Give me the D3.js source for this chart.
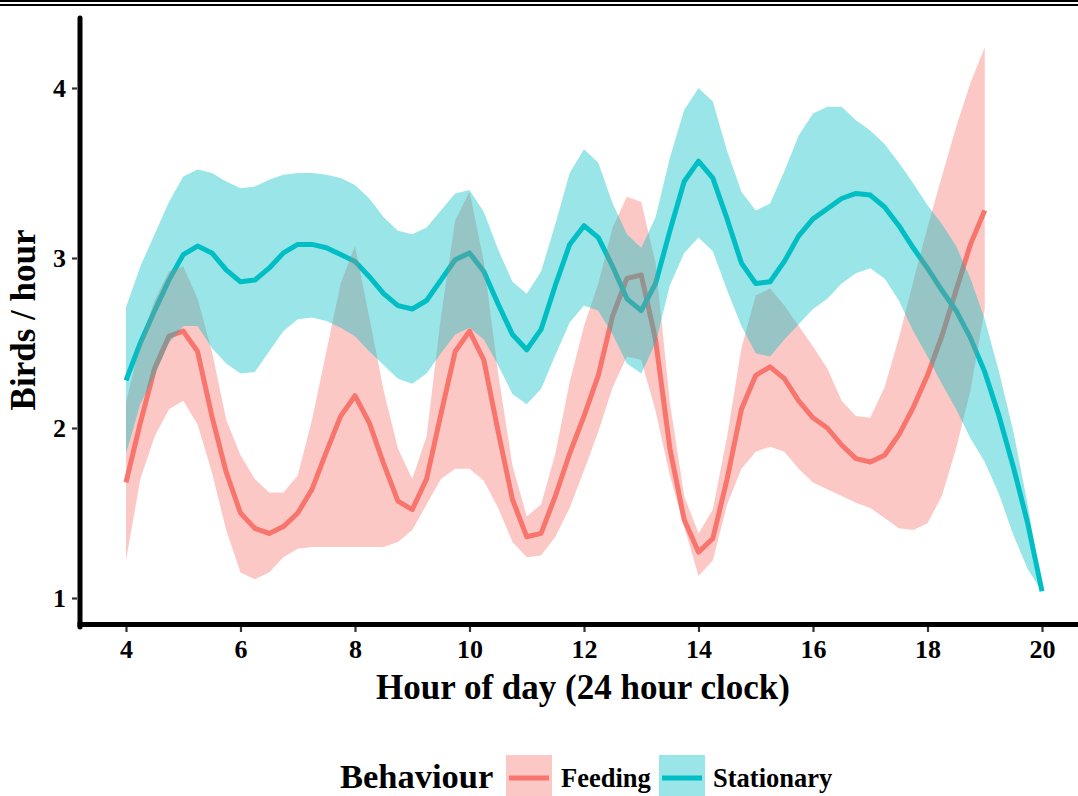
<!DOCTYPE html>
<html>
<head>
<meta charset="utf-8">
<script src="https://cdn.jsdelivr.net/npm/d3@7"></script>
<style>
  html, body { margin: 0; padding: 0; background: #fff; }
  svg { display: block; }
  text { font-family: "Liberation Serif", "Times New Roman", serif; font-weight: bold; fill: #000; }
</style>
</head>
<body>
<svg id="chart" width="1078" height="796"></svg>
<script>
// ---------- DATA ----------
const behaviours = ["Feeding", "Stationary"];
const colours = ["#F8766D", "#00BFC4"];

const feedingHours = [4,4.25,4.5,4.75,5,5.25,5.5,5.75,6,6.25,6.5,6.75,7,7.25,7.5,7.75,8,8.25,8.5,8.75,9,9.25,9.5,9.75,10,10.25,10.5,10.75,11,11.25,11.5,11.75,12,12.25,12.5,12.75,13,13.25,13.5,13.75,14,14.25,14.5,14.75,15,15.25,15.5,15.75,16,16.25,16.5,16.75,17,17.25,17.5,17.75,18,18.25,18.5,18.75,19];
const feedingMean = [1.68,2.03,2.35,2.54,2.57,2.45,2.07,1.74,1.50,1.41,1.38,1.42,1.50,1.64,1.86,2.07,2.19,2.03,1.79,1.57,1.52,1.70,2.08,2.45,2.57,2.40,1.98,1.58,1.36,1.38,1.60,1.85,2.07,2.31,2.66,2.88,2.90,2.52,1.88,1.46,1.27,1.35,1.70,2.11,2.31,2.36,2.29,2.16,2.06,2.00,1.90,1.82,1.80,1.84,1.96,2.12,2.31,2.54,2.81,3.08,3.28];
const feedingUpper = [2.15,2.50,2.75,2.92,2.95,2.76,2.45,2.05,1.84,1.70,1.62,1.62,1.72,2.05,2.45,2.85,3.07,2.65,2.22,1.88,1.70,1.95,2.65,3.22,3.39,2.98,2.32,1.78,1.48,1.55,1.85,2.27,2.60,2.85,3.18,3.36,3.33,2.97,2.15,1.60,1.38,1.52,1.95,2.47,2.78,2.82,2.72,2.60,2.48,2.35,2.16,2.07,2.06,2.24,2.53,2.86,3.18,3.48,3.77,4.03,4.24];
const feedingLower = [1.22,1.70,1.95,2.11,2.16,2.02,1.74,1.40,1.15,1.11,1.15,1.24,1.29,1.30,1.30,1.30,1.30,1.30,1.30,1.33,1.40,1.55,1.70,1.76,1.76,1.69,1.53,1.33,1.24,1.25,1.36,1.53,1.75,1.98,2.24,2.42,2.40,2.10,1.72,1.42,1.13,1.22,1.55,1.76,1.86,1.89,1.86,1.76,1.68,1.64,1.60,1.56,1.53,1.47,1.41,1.40,1.44,1.60,1.88,2.22,2.70];

const stationaryHours = [4,4.25,4.5,4.75,5,5.25,5.5,5.75,6,6.25,6.5,6.75,7,7.25,7.5,7.75,8,8.25,8.5,8.75,9,9.25,9.5,9.75,10,10.25,10.5,10.75,11,11.25,11.5,11.75,12,12.25,12.5,12.75,13,13.25,13.5,13.75,14,14.25,14.5,14.75,15,15.25,15.5,15.75,16,16.25,16.5,16.75,17,17.25,17.5,17.75,18,18.25,18.5,18.75,19,19.25,19.5,19.75,20];
const stationaryMean = [2.28,2.50,2.69,2.87,3.02,3.07,3.03,2.93,2.86,2.87,2.94,3.03,3.08,3.08,3.06,3.02,2.98,2.89,2.79,2.72,2.70,2.75,2.87,2.99,3.03,2.92,2.73,2.55,2.46,2.58,2.84,3.08,3.19,3.12,2.95,2.76,2.69,2.85,3.16,3.45,3.57,3.47,3.23,2.97,2.85,2.86,2.98,3.13,3.23,3.29,3.35,3.38,3.37,3.30,3.19,3.06,2.94,2.81,2.69,2.53,2.33,2.07,1.77,1.44,1.04];
const stationaryUpper = [2.71,2.95,3.14,3.33,3.48,3.52,3.50,3.45,3.41,3.42,3.46,3.49,3.50,3.50,3.49,3.47,3.43,3.35,3.24,3.16,3.14,3.18,3.28,3.38,3.40,3.27,3.05,2.86,2.79,2.92,3.20,3.50,3.64,3.56,3.32,3.14,3.06,3.24,3.59,3.87,4.00,3.92,3.63,3.39,3.28,3.32,3.51,3.72,3.85,3.89,3.89,3.81,3.75,3.67,3.56,3.44,3.31,3.20,3.07,2.88,2.64,2.33,1.98,1.55,1.04];
const stationaryLower = [1.85,2.14,2.31,2.50,2.60,2.60,2.47,2.38,2.32,2.33,2.45,2.57,2.64,2.65,2.63,2.59,2.54,2.45,2.37,2.29,2.26,2.32,2.44,2.55,2.59,2.52,2.37,2.20,2.14,2.23,2.43,2.62,2.72,2.69,2.55,2.38,2.32,2.50,2.84,3.03,3.12,3.04,2.81,2.60,2.44,2.42,2.52,2.61,2.70,2.76,2.85,2.91,2.94,2.88,2.75,2.57,2.42,2.26,2.11,1.94,1.80,1.61,1.37,1.17,1.04];

const xTicks = [4,6,8,10,12,14,16,18,20];
const yTicks = [1,2,3,4];
const xTitle = "Hour of day (24 hour clock)";
const yTitle = "Birds / hour";
const legendTitle = "Behaviour";

// ---------- BUILD ----------
const series = [
  { name: behaviours[0], colour: colours[0], pts: feedingHours.map((h,i)=>({h, m: feedingMean[i], lo: feedingLower[i], hi: feedingUpper[i]})) },
  { name: behaviours[1], colour: colours[1], pts: stationaryHours.map((h,i)=>({h, m: stationaryMean[i], lo: stationaryLower[i], hi: stationaryUpper[i]})) }
];

const svg = d3.select("#chart");
const x = d3.scaleLinear().domain([4, 20]).range([126, 1042]);
const y = d3.scaleLinear().domain([1, 4]).range([598, 88]);

// top double rule
svg.append("line").attr("x1",0).attr("x2",1078).attr("y1",1).attr("y2",1).attr("stroke","#000").attr("stroke-width",2);
svg.append("line").attr("x1",0).attr("x2",1078).attr("y1",5).attr("y2",5).attr("stroke","#000").attr("stroke-width",2);

const plot = svg.append("g");
const line = d3.line().x(d=>x(d.h)).y(d=>y(d.m));
const area = d3.area().x(d=>x(d.h)).y0(d=>y(d.lo)).y1(d=>y(d.hi));

// lines first, ribbons over them
series.forEach(s => {
  plot.append("path").datum(s.pts).attr("d", line)
    .attr("fill","none").attr("stroke", s.colour).attr("stroke-width", 5)
    .attr("stroke-linejoin","round");
});
series.forEach(s => {
  plot.append("path").datum(s.pts).attr("d", area)
    .attr("fill", s.colour).attr("fill-opacity", 0.4).attr("stroke","none");
});

// axes
const xAxis = d3.axisBottom(x).tickValues(xTicks).tickSize(5).tickPadding(8).tickFormat(d3.format("d"));
const gx = svg.append("g").attr("transform","translate(0,627)").call(xAxis);
gx.select(".domain").remove();
gx.selectAll(".tick line").attr("stroke","#333").attr("stroke-width",2.2);
gx.selectAll(".tick text").attr("font-size",26).attr("font-family","Liberation Serif").attr("font-weight","bold").attr("fill","#000").attr("y",31).attr("dy",0);

const yAxis = d3.axisLeft(y).tickValues(yTicks).tickSize(5).tickPadding(6).tickFormat(d3.format("d"));
const gy = svg.append("g").attr("transform","translate(77,0)").call(yAxis);
gy.select(".domain").remove();
gy.selectAll(".tick line").attr("stroke","#333").attr("stroke-width",2.2);
gy.selectAll(".tick text").attr("font-size",26).attr("font-family","Liberation Serif").attr("font-weight","bold").attr("fill","#000").attr("dy","0.34em");

// axis lines
svg.append("line").attr("x1",80).attr("x2",80).attr("y1",18).attr("y2",627).attr("stroke","#000").attr("stroke-width",5).attr("stroke-linecap","round");
svg.append("line").attr("x1",77.5).attr("x2",1078).attr("y1",624.5).attr("y2",624.5).attr("stroke","#000").attr("stroke-width",5);

// titles
svg.append("text").attr("x",583).attr("y",699).attr("text-anchor","middle").attr("font-size",35).text(xTitle);
svg.append("text").attr("transform","translate(35,320) rotate(-90)").attr("text-anchor","middle").attr("font-size",35).text(yTitle);

// legend
const lg = svg.append("g");
lg.append("text").attr("x",340).attr("y",788).attr("font-size",34.5).text(legendTitle);
const keyX = [506, 659];
const labX = [561, 713];
series.forEach((s,i) => {
  lg.append("rect").attr("x",keyX[i]).attr("y",755).attr("width",46).attr("height",46)
    .attr("fill", s.colour).attr("fill-opacity",0.4);
  lg.append("line").attr("x1",keyX[i]+3).attr("x2",keyX[i]+43).attr("y1",778).attr("y2",778)
    .attr("stroke", s.colour).attr("stroke-width",5);
  lg.append("text").attr("x",labX[i]).attr("y",787).attr("font-size",26.5).text(s.name);
});
</script>
</body>
</html>
